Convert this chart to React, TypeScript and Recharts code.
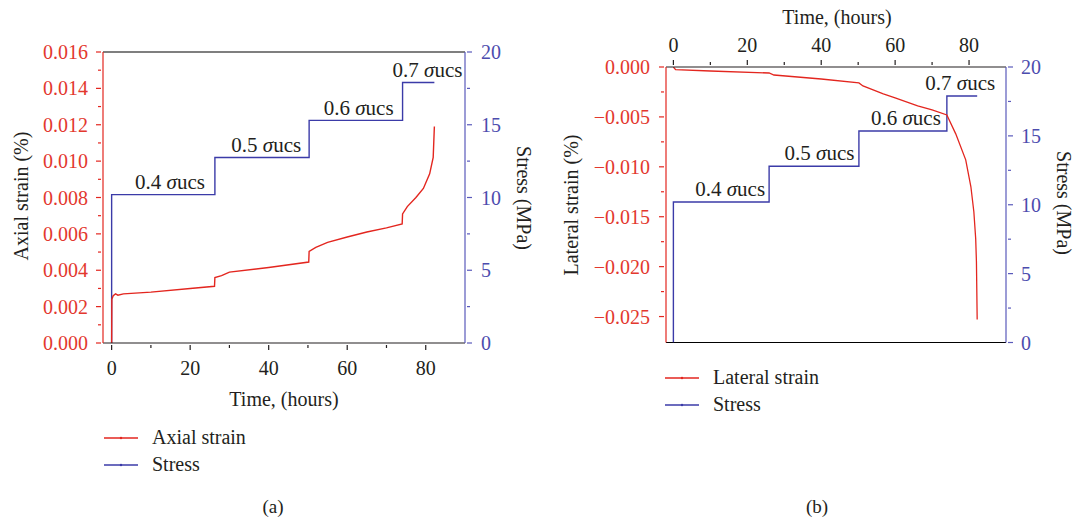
import React from 'react';
import { LineChart, Line, XAxis, YAxis, ReferenceLine, ReferenceDot, Legend } from 'recharts';

const RED = '#e3261f';
const RED_TEXT = '#e3382e';
const BLUE = '#3b3ba8';
const BLUE_AXIS = '#5a5abb';
const BLUE_TEXT = '#4c4cae';
const INK = '#231f20';
const FONT = '"Liberation Serif", "DejaVu Serif", Times, serif';

// (a) axial strain vs time
const axialTime = [0, 0.05, 0.4, 1, 1.6, 3, 10, 20, 26.2, 26.3, 28, 30, 40, 50.2, 50.3, 52, 55, 60, 65, 70, 74, 74.1, 75.3, 77.5, 79.4, 81, 81.9, 82.2];
const axialStrain = [0, 0.0024, 0.0026, 0.0027, 0.00263, 0.0027, 0.0028, 0.003, 0.00312, 0.0036, 0.0037, 0.0039, 0.00415, 0.00445, 0.00504, 0.00526, 0.00553, 0.00583, 0.0061, 0.00633, 0.00655, 0.0071, 0.0075, 0.008, 0.0085, 0.0093, 0.0102, 0.0119];

// (b) lateral strain vs time
const lateralTime = [0, 0.6, 10, 25.9, 27.2, 40, 50.2, 51.3, 56.8, 60, 66.1, 70, 74, 76.4, 79.1, 80.5, 81.3, 81.8, 82.0, 82.2];
const lateralStrain = [0, -0.00027, -0.0004, -0.0006, -0.0008, -0.0012, -0.0016, -0.0019, -0.0027, -0.0031, -0.0039, -0.0043, -0.0048, -0.0067, -0.0093, -0.012, -0.0145, -0.0172, -0.0195, -0.0253];

// creep stress steps (fraction of UCS)
const stepLoad = ['0.4', '0.5', '0.6', '0.7'];
const stepStartA = [0, 26.3, 50.3, 74.1];
const stressLevelA = [10.2, 12.75, 15.3, 17.9];
const stepEndA = 82.2;
const stepStartB = [0, 25.9, 50.2, 74];
const stressLevelB = [10.2, 12.8, 15.35, 17.9];
const stepEndB = 82.2;

// tick labels
const timeTicks = [0, 20, 40, 60, 80];
const axialTicks = [0, 0.002, 0.004, 0.006, 0.008, 0.01, 0.012, 0.014, 0.016];
const lateralTicks = [-0.025, -0.02, -0.015, -0.01, -0.005, 0];
const stressTicks = [0, 5, 10, 15, 20];

const zip = (t: number[], v: number[]) => t.map((x, i) => ({ t: x, v: v[i] }));

const steps = (starts: number[], levels: number[], end: number) => {
  const pts: { t: number; v: number }[] = [];
  starts.forEach((s, i) => {
    pts.push({ t: s, v: i === 0 ? 0 : levels[i - 1] });
    pts.push({ t: s, v: levels[i] });
  });
  pts.push({ t: end, v: levels[levels.length - 1] });
  return pts;
};

const withMinor = (majors: number[]) => {
  const out: number[] = [];
  majors.forEach((m, i) => {
    out.push(m);
    if (i < majors.length - 1) out.push((m + majors[i + 1]) / 2);
  });
  return out;
};

type Side = 'left' | 'right' | 'top' | 'bottom';

const makeTick = (side: Side, majors: number[], fmt: (v: number) => string, color: string, lineColor: string, gap: number) =>
  (props: any) => {
    const { x, y, payload } = props;
    const v = payload.value;
    const major = majors.some((m) => Math.abs(m - v) < 1e-9);
    const len = major ? 5 : 3;
    let line;
    let tx = x;
    let ty = y;
    let anchor: 'start' | 'middle' | 'end' = 'middle';
    if (side === 'left') { line = <line x1={x - len} x2={x} y1={y} y2={y} />; tx = x - gap; anchor = 'end'; }
    else if (side === 'right') { line = <line x1={x} x2={x + len} y1={y} y2={y} />; tx = x + gap; anchor = 'start'; }
    else if (side === 'top') { line = <line x1={x} x2={x} y1={y - len} y2={y} />; ty = y - gap; }
    else { line = <line x1={x} x2={x} y1={y} y2={y + len} />; ty = y + gap; }
    return (
      <g>
        <g stroke={lineColor} strokeWidth={1.2}>{line}</g>
        {major && (
          <text x={tx} y={ty} textAnchor={anchor} dominantBaseline="central" fill={color} fontSize={20} fontFamily={FONT}>
            {fmt(v)}
          </text>
        )}
      </g>
    );
  };

const axisTitle = (text: string, dx: number, dy: number, angle: number) => (props: any) => {
  const vb = props.viewBox;
  const x = vb.x + dx;
  const y = vb.y + dy;
  return (
    <text x={x} y={y} transform={`rotate(${angle} ${x} ${y})`} textAnchor="middle" dominantBaseline="central"
      fill={INK} fontSize={20} fontFamily={FONT}>
      {text}
    </text>
  );
};

const stepLabel = (load: string, dx: number, dy: number) => (props: any) => {
  const vb = props.viewBox;
  return (
    <text x={vb.x + dx} y={vb.y + dy} textAnchor="end" dominantBaseline="central" fill={INK} fontSize={21} fontFamily={FONT}>
      <tspan>{load} </tspan>
      <tspan fontStyle="italic">σ</tspan>
      <tspan>ucs</tspan>
    </text>
  );
};

const renderLegend = (props: any) => (
  <div style={{ fontFamily: FONT, fontSize: 20, color: INK }}>
    {props.payload.map((e: any) => (
      <div key={e.value} style={{ display: 'flex', alignItems: 'center', height: 27 }}>
        <svg width={48} height={10} style={{ flex: 'none' }}>
          <line x1={0} y1={5} x2={34} y2={5} stroke={e.color} strokeWidth={1.3} />
          <circle cx={17} cy={5} r={1.2} fill={e.color} />
        </svg>
        <span>{e.value}</span>
      </div>
    ))}
  </div>
);

const fmtAxial = (v: number) => v.toFixed(3);
const fmtLateral = (v: number) => (Math.abs(v) < 1e-12 ? '0.000' : '\u2212' + Math.abs(v).toFixed(3));
const fmtInt = (v: number) => String(v);

const AxialChart = () => {
  const strain = zip(axialTime, axialStrain);
  const stress = steps(stepStartA, stressLevelA, stepEndA);
  const labelDx = [-10, -8, -9, 28];
  return (
    <LineChart width={540} height={522} margin={{ top: 52, right: 0, bottom: 119, left: 0 }}>
      <XAxis type="number" dataKey="t" domain={[-2.2, 90]} allowDataOverflow ticks={withMinor(timeTicks)} interval={0}
        height={60} tickSize={0} tickLine={false} axisLine={{ stroke: INK, strokeWidth: 1.2 }}
        tick={makeTick('bottom', timeTicks, fmtInt, INK, INK, 23)}
        label={axisTitle('Time, (hours)', 181, 56, 0)} />
      <YAxis yAxisId="strain" orientation="left" type="number" domain={[0, 0.016]} allowDataOverflow
        ticks={withMinor(axialTicks)} interval={0} width={103} tickSize={0} tickLine={false}
        axisLine={{ stroke: RED, strokeWidth: 1.2 }}
        tick={makeTick('left', axialTicks, fmtAxial, RED_TEXT, RED, 13)}
        label={axisTitle('Axial strain (%)', 21, 144, -90)} />
      <YAxis yAxisId="stress" orientation="right" type="number" domain={[0, 20]} allowDataOverflow
        ticks={withMinor(stressTicks)} interval={0} width={75} tickSize={0} tickLine={false}
        axisLine={{ stroke: BLUE_AXIS, strokeWidth: 1.2 }}
        tick={makeTick('right', stressTicks, fmtInt, BLUE_TEXT, BLUE_AXIS, 14)}
        label={axisTitle('Stress (MPa)', 59, 146, 90)} />
      <ReferenceLine yAxisId="strain" y={0.016} stroke="#000" strokeWidth={1.2} />
      <Line yAxisId="stress" data={stress} dataKey="v" name="Stress" type="linear" stroke={BLUE} strokeWidth={1.4}
        dot={false} activeDot={false} isAnimationActive={false} legendType="line" />
      <Line yAxisId="strain" data={strain} dataKey="v" name="Axial strain" type="linear" stroke={RED} strokeWidth={1.4}
        dot={false} activeDot={false} isAnimationActive={false} legendType="line" />
      {stepLoad.map((load, i) => (
        <ReferenceDot key={load} yAxisId="stress" x={i < 3 ? stepStartA[i + 1] : stepEndA} y={stressLevelA[i]} r={0}
          fill="none" stroke="none" label={stepLabel(load, labelDx[i], -12.5)} />
      ))}
      <Legend layout="vertical" align="center" verticalAlign="middle" content={renderLegend}
        payload={[{ value: 'Axial strain', color: RED, type: 'line' }, { value: 'Stress', color: BLUE, type: 'line' }] as any}
        wrapperStyle={{ left: 104, top: 424, width: 250, height: 54 }} />
    </LineChart>
  );
};

const LateralChart = () => {
  const strain = zip(lateralTime, lateralStrain);
  const stress = steps(stepStartB, stressLevelB, stepEndB);
  const labelDx = [-4, -4.5, -6, 18];
  return (
    <LineChart width={538} height={522} margin={{ top: 0, right: 0, bottom: 179.5, left: 0 }}>
      <XAxis type="number" dataKey="t" orientation="top" domain={[-2, 90]} allowDataOverflow ticks={withMinor(timeTicks)}
        interval={0} height={67} tickSize={0} tickLine={false} axisLine={{ stroke: INK, strokeWidth: 1.2 }}
        tick={makeTick('top', timeTicks, fmtInt, INK, INK, 20)}
        label={axisTitle('Time, (hours)', 171, 16.7, 0)} />
      <YAxis yAxisId="strain" orientation="left" type="number" domain={[-0.0276, 0]} allowDataOverflow
        ticks={withMinor(lateralTicks)} interval={0} width={126} tickSize={0} tickLine={false}
        axisLine={{ stroke: RED, strokeWidth: 1.2 }}
        tick={makeTick('left', lateralTicks, fmtLateral, RED_TEXT, RED, 14)}
        label={axisTitle('Lateral strain (%)', 31, 138, -90)} />
      <YAxis yAxisId="stress" orientation="right" type="number" domain={[0, 20]} allowDataOverflow
        ticks={withMinor(stressTicks)} interval={0} width={72} tickSize={0} tickLine={false}
        axisLine={{ stroke: BLUE_AXIS, strokeWidth: 1.2 }}
        tick={makeTick('right', stressTicks, fmtInt, BLUE_TEXT, BLUE_AXIS, 13)}
        label={axisTitle('Stress (MPa)', 58, 136, 90)} />
      <ReferenceLine yAxisId="strain" y={-0.0276} stroke="#000" strokeWidth={1.2} />
      <Line yAxisId="stress" data={stress} dataKey="v" name="Stress" type="linear" stroke={BLUE} strokeWidth={1.4}
        dot={false} activeDot={false} isAnimationActive={false} />
      <Line yAxisId="strain" data={strain} dataKey="v" name="Lateral strain" type="linear" stroke={RED} strokeWidth={1.3}
        dot={false} activeDot={false} isAnimationActive={false} />
      {stepLoad.map((load, i) => (
        <ReferenceDot key={load} yAxisId="stress" x={i < 3 ? stepStartB[i + 1] : stepEndB} y={stressLevelB[i]} r={0}
          fill="none" stroke="none" label={stepLabel(load, labelDx[i], -13)} />
      ))}
      <Legend layout="vertical" align="center" verticalAlign="middle" content={renderLegend}
        payload={[{ value: 'Lateral strain', color: RED, type: 'line' }, { value: 'Stress', color: BLUE, type: 'line' }] as any}
        wrapperStyle={{ left: 125, top: 364, width: 250, height: 54 }} />
    </LineChart>
  );
};

export default function App() {
  const caption: React.CSSProperties = {
    position: 'absolute', top: 496, fontFamily: FONT, fontSize: 19, color: INK, width: 40, textAlign: 'center',
  };
  return (
    <div style={{ position: 'absolute', left: 0, top: 0, width: 1078, height: 522, background: '#fff', overflow: 'hidden' }}>
      <div style={{ position: 'absolute', left: 0, top: 0 }}>
        <AxialChart />
      </div>
      <div style={{ position: 'absolute', left: 540, top: 0 }}>
        <LateralChart />
      </div>
      <div style={{ ...caption, left: 253 }}>(a)</div>
      <div style={{ ...caption, left: 797 }}>(b)</div>
    </div>
  );
}
